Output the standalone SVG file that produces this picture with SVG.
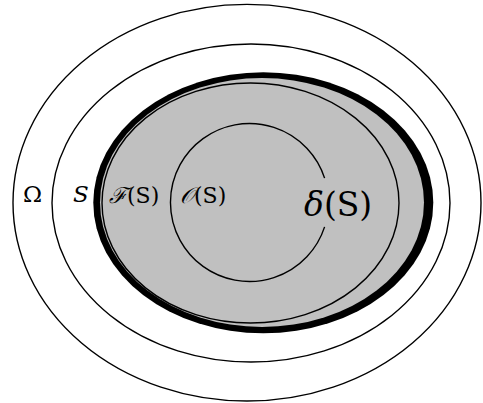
<svg xmlns="http://www.w3.org/2000/svg" width="483" height="403" viewBox="0 0 483 403">
  <style>
    .line { fill: none; stroke: #000; stroke-width: 1.4; }
    text { fill: #000; font-family: "DejaVu Serif", serif; }
  </style>
  <rect width="483" height="403" fill="#fff"/>
  <g id="omega">
    <ellipse class="line" cx="247" cy="202.7" rx="234" ry="198.3"/>
    <text x="23" y="202" font-size="23">Ω</text>
  </g>
  <g id="S">
    <ellipse class="line" cx="251" cy="203" rx="199" ry="159"/>
    <text x="73" y="202" font-family="Liberation Serif, serif" font-style="italic" font-size="23">S</text>
  </g>
  <g id="boundary">
    <ellipse cx="263.3" cy="202.8" rx="170" ry="130.5" fill="#000"/>
    <ellipse cx="262" cy="202.5" rx="162" ry="124.5" fill="#c0c0c0"/>
  </g>
  <g id="F">
    <ellipse class="line" cx="250.5" cy="203" rx="148.5" ry="120"/>
    <text x="109" y="203" font-size="22"><tspan font-style="italic">ℱ</tspan>(S)</text>
  </g>
  <g id="O">
    <path class="line" d="M 324.6 178.1 A 79 79 0 1 0 324.6 226.9"/>
    <text x="180" y="203" font-size="22"><tspan font-style="italic">𝒪</tspan>(S)</text>
  </g>
  <g id="delta">
    <text x="304" y="216" font-size="33"><tspan font-style="italic">δ</tspan>(S)</text>
  </g>
  <g id="connectors"/>
</svg>
